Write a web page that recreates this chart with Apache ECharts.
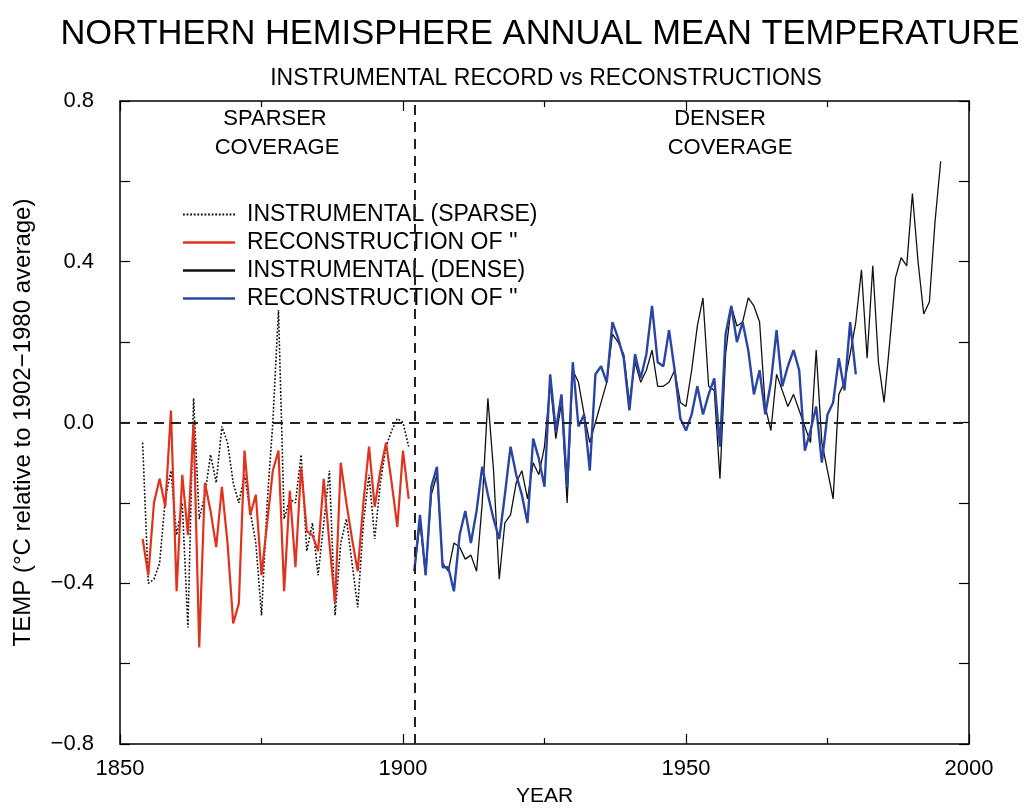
<!DOCTYPE html>
<html>
<head>
<meta charset="utf-8">
<script src="https://cdn.jsdelivr.net/npm/echarts@6/dist/echarts.min.js"></script>
<style>
html,body{margin:0;padding:0;background:#fff;}
#chart{width:1028px;height:812px;}
</style>
</head>
<body>
<div id="chart"></div>
<script>
// ---- DATA ----
var sparseStartYear = 1854;
var denseStartYear = 1902;
var boundaryYear = 1902;

var instrumentalSparse = [
 -0.05,-0.40,-0.39,-0.35,-0.19,-0.12,-0.28,-0.20,-0.51,0.06,
 -0.24,-0.18,-0.08,-0.15,-0.01,-0.05,-0.15,-0.20,-0.13,-0.22,
 -0.30,-0.48,-0.20,0.00,0.28,-0.24,-0.19,-0.20,-0.08,-0.32,
 -0.25,-0.38,-0.25,-0.12,-0.48,-0.30,-0.24,-0.35,-0.46,-0.25,
 -0.13,-0.29,-0.15,-0.06,-0.02,0.01,0.00,-0.06
];
var reconstructionSparse = [
 -0.29,-0.38,-0.20,-0.14,-0.21,0.03,-0.42,-0.13,-0.28,0.00,
 -0.56,-0.15,-0.22,-0.31,-0.16,-0.30,-0.50,-0.45,-0.07,-0.23,
 -0.18,-0.38,-0.25,-0.12,-0.07,-0.42,-0.17,-0.36,-0.11,-0.27,
 -0.28,-0.32,-0.14,-0.30,-0.45,-0.10,-0.20,-0.29,-0.37,-0.20,
 -0.06,-0.21,-0.12,-0.05,-0.15,-0.26,-0.07,-0.19
];
var instrumentalDense = [
 -0.37,-0.25,-0.38,-0.18,-0.13,-0.35,-0.37,-0.30,-0.31,-0.34,
 -0.33,-0.37,-0.20,0.06,-0.12,-0.39,-0.25,-0.23,-0.15,-0.12,
 -0.19,-0.10,-0.13,-0.06,0.10,-0.04,0.05,-0.20,0.13,0.10,
 0.02,-0.05,0.00,0.05,0.10,0.22,0.20,0.17,0.05,0.15,
 0.10,0.13,0.18,0.09,0.09,0.10,0.13,0.05,0.04,0.13,
 0.24,0.31,0.09,0.08,-0.14,0.17,0.29,0.24,0.25,0.31,
 0.29,0.25,0.04,-0.02,0.12,0.08,0.04,0.07,0.03,-0.01,
 -0.05,0.18,-0.05,-0.12,-0.19,0.07,0.10,0.17,0.25,0.38,
 0.16,0.39,0.15,0.05,0.20,0.36,0.41,0.39,0.57,0.40,
 0.27,0.30,0.50,0.65
];
var reconstructionDense = [
 -0.37,-0.23,-0.38,-0.16,-0.11,-0.36,-0.36,-0.42,-0.28,-0.22,
 -0.30,-0.22,-0.11,-0.18,-0.24,-0.29,-0.18,-0.06,-0.13,-0.18,
 -0.25,-0.04,-0.09,-0.16,0.12,-0.02,0.07,-0.16,0.15,-0.01,
 0.02,-0.12,0.12,0.14,0.10,0.25,0.21,0.16,0.03,0.17,
 0.11,0.17,0.29,0.15,0.14,0.23,0.13,0.01,-0.02,0.02,
 0.09,0.02,0.07,0.11,-0.06,0.22,0.29,0.20,0.25,0.18,
 0.07,0.13,0.02,0.10,0.23,0.09,0.14,0.18,0.13,-0.07,
 -0.02,0.04,-0.10,0.02,0.05,0.16,0.08,0.25,0.12
];
var xTicks = [1850, 1900, 1950, 2000];
var yTicks = [-0.8, -0.4, 0.0, 0.4, 0.8];
var seriesNames = ['INSTRUMENTAL (SPARSE)', 'RECONSTRUCTION OF \'\'', 'INSTRUMENTAL (DENSE)', 'RECONSTRUCTION OF \'\' '];

function pairs(start, vals){ return vals.map(function(v,i){ return [start+i, v]; }); }

// dotted legend icon path
var dotPath = 'path://';
for (var px = 0; px < 52; px += 3.5) { dotPath += 'M' + px + ',0h1.8v1.8h-1.8z'; }

var chart = echarts.init(document.getElementById('chart'));
var FONT = 'Liberation Sans, Arial, sans-serif';
var fmtY = function(v){ var s = Math.abs(v).toFixed(1); return v < -1e-9 ? '\u2212' + s : s; };

var axisCommonX = {
  type: 'value', min: xTicks[0], max: xTicks[xTicks.length-1], interval: 50,
  axisLine: {show: true, onZero: false, lineStyle: {color: '#000', width: 1.5}},
  axisTick: {show: true, inside: true, length: 10, lineStyle: {color: '#000', width: 1.2}},
  minorTick: {show: true, splitNumber: 2, length: 6, lineStyle: {color: '#000', width: 1.2}},
  splitLine: {show: false}
};
var axisCommonY = {
  type: 'value', min: yTicks[0], max: yTicks[yTicks.length-1], interval: 0.4,
  axisLine: {show: true, onZero: false, lineStyle: {color: '#000', width: 1.5}},
  axisTick: {show: true, inside: true, length: 10, lineStyle: {color: '#000', width: 1.2}},
  minorTick: {show: true, splitNumber: 2, length: 10, lineStyle: {color: '#000', width: 1.2}},
  splitLine: {show: false}
};

var option = {
  backgroundColor: '#fff',
  animation: false,
  title: [
    {text: 'NORTHERN HEMISPHERE ANNUAL MEAN TEMPERATURE', left: 535, top: 12, textAlign: 'center',
     textStyle: {fontFamily: FONT, fontSize: 34.5, fontWeight: 'normal', color: '#000'}},
    {text: 'INSTRUMENTAL RECORD vs RECONSTRUCTIONS', left: 541, top: 62, textAlign: 'center',
     textStyle: {fontFamily: FONT, fontSize: 23, fontWeight: 'normal', color: '#000'}}
  ],
  grid: {left: 120, right: 59, top: 101, bottom: 64},
  legend: {
    orient: 'vertical', left: 178, top: 198, itemWidth: 52, itemHeight: 2.5, itemGap: 5,
    selectedMode: false,
    textStyle: {fontFamily: FONT, fontSize: 23, color: '#000', padding: [0, 0, 0, 7]},
    data: [
      {name: seriesNames[0], icon: dotPath},
      {name: seriesNames[1], icon: 'rect'},
      {name: seriesNames[2], icon: 'rect'},
      {name: seriesNames[3], icon: 'rect'}
    ]
  },
  xAxis: [
    Object.assign({}, axisCommonX, {position: 'bottom',
      name: 'YEAR', nameLocation: 'middle', nameGap: 42,
      nameTextStyle: {fontFamily: FONT, fontSize: 21, color: '#000'},
      axisLabel: {show: true, margin: 14, fontFamily: FONT, fontSize: 22, color: '#000',
        formatter: function(v){ return xTicks.indexOf(v) >= 0 ? String(v) : ''; }}}),
    Object.assign({}, axisCommonX, {position: 'top', axisLabel: {show: false}})
  ],
  yAxis: [
    Object.assign({}, axisCommonY, {position: 'left',
      name: 'TEMP (\u00B0C relative to 1902\u22121980 average)', nameLocation: 'middle', nameGap: 85,
      nameTextStyle: {fontFamily: FONT, fontSize: 24, color: '#000'},
      axisLabel: {show: true, margin: 26, fontFamily: FONT, fontSize: 22, color: '#000', formatter: fmtY}}),
    Object.assign({}, axisCommonY, {position: 'right', axisLabel: {show: false}})
  ],
  graphic: [
    {type: 'text', x: 275, y: 108, style: {text: 'SPARSER', textAlign: 'center', fontFamily: FONT, fontSize: 22, fill: '#000'}},
    {type: 'text', x: 277, y: 137, style: {text: 'COVERAGE', textAlign: 'center', fontFamily: FONT, fontSize: 22, fill: '#000'}},
    {type: 'text', x: 720, y: 108, style: {text: 'DENSER', textAlign: 'center', fontFamily: FONT, fontSize: 22, fill: '#000'}},
    {type: 'text', x: 730, y: 137, style: {text: 'COVERAGE', textAlign: 'center', fontFamily: FONT, fontSize: 22, fill: '#000'}}
  ],
  series: [
    {name: seriesNames[0], type: 'line', symbol: 'none', data: pairs(sparseStartYear, instrumentalSparse),
     lineStyle: {color: '#111', width: 1.6, type: [1.8, 1.8]}, itemStyle: {color: '#111'}, z: 2,
     markLine: {silent: true, symbol: 'none', label: {show: false},
       lineStyle: {color: '#222', width: 2, type: [10, 7]},
       data: [{yAxis: 0}, {xAxis: boundaryYear}]}},
    {name: seriesNames[1], type: 'line', symbol: 'none', data: pairs(sparseStartYear, reconstructionSparse),
     lineStyle: {color: '#e0321c', width: 2.2}, itemStyle: {color: '#e0321c'}, z: 3},
    {name: seriesNames[2], type: 'line', symbol: 'none', data: pairs(denseStartYear, instrumentalDense),
     lineStyle: {color: '#111', width: 1.3}, itemStyle: {color: '#111'}, z: 2},
    {name: seriesNames[3], type: 'line', symbol: 'none', data: pairs(denseStartYear, reconstructionDense),
     lineStyle: {color: '#2a45a3', width: 2.4}, itemStyle: {color: '#2a45a3'}, z: 3}
  ]
};
chart.setOption(option);
</script>
</body>
</html>
